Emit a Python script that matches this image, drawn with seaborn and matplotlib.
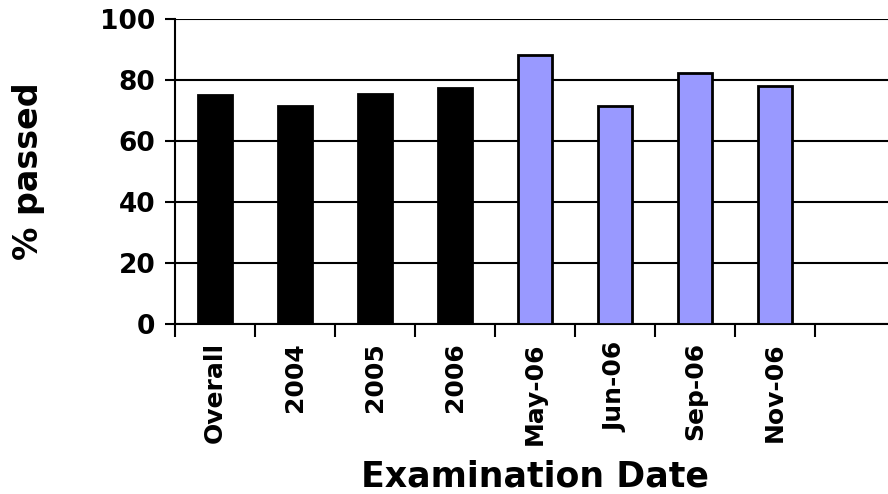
import matplotlib
matplotlib.use('Agg')
import matplotlib.pyplot as plt
import seaborn as sns
import pandas as pd
import numpy as np

# data
categories = ['Overall', '2004', '2005', '2006', 'May-06', 'Jun-06', 'Sep-06', 'Nov-06']
pass_rate = [75.0, 71.4, 75.4, 77.3, 88.2, 71.6, 82.2, 78.1]
period = ['aggregate', 'aggregate', 'aggregate', 'aggregate', 'session', 'session', 'session', 'session']
y_ticks = [0, 20, 40, 60, 80, 100]

df = pd.DataFrame({'Date': categories, 'Passed': pass_rate, 'Period': period})

sns.set_style('white')
plt.rcParams['font.family'] = ['DejaVu Sans']
plt.rcParams['font.weight'] = 'bold'
plt.rcParams['text.color'] = 'black'
plt.rcParams['axes.labelcolor'] = 'black'
plt.rcParams['xtick.color'] = 'black'
plt.rcParams['ytick.color'] = 'black'

fig = plt.figure(figsize=(8.88, 4.94), dpi=100)
# right edge of the plot area runs past the figure, as in the original
ax = fig.add_axes([175 / 888, 1 - 324 / 494, 720 / 888, 305 / 494])

colors = {'aggregate': '#000000', 'session': '#9999FF'}
sns.barplot(data=df, x='Date', y='Passed', hue='Period', palette=colors,
            order=categories, dodge=False, width=0.43, legend=False, saturation=1,
            edgecolor='black', linewidth=2, ax=ax, zorder=3)

ax.set_xlim(-0.5, len(categories) + 0.5)
ax.set_ylim(0, 100)
ax.set_yticks(y_ticks)
ax.yaxis.grid(True, color='black', linewidth=1.5, zorder=0)
ax.set_axisbelow(True)

for s in ['top', 'right']:
    ax.spines[s].set_visible(False)
for s in ['left', 'bottom']:
    ax.spines[s].set_color('black')
    ax.spines[s].set_linewidth(1.5)

# labels centred on bars, tick marks on slot boundaries
ax.set_xticks(range(len(categories)))
ax.set_xticklabels(categories, rotation=90, fontsize=18, fontweight='bold')
ax.set_xticks(np.arange(-0.5, len(categories) + 0.5, 1), minor=True)
ax.tick_params(axis='x', which='major', length=0, pad=13, bottom=True)
ax.tick_params(axis='x', which='minor', length=9, width=1.5, color='black',
               direction='out', bottom=True)
ax.tick_params(axis='y', length=7, width=1.5, color='black', direction='out',
               labelsize=19, pad=7, left=True)
for t in ax.get_yticklabels():
    t.set_fontweight('bold')

ax.set_xlabel('Examination Date', fontsize=25, fontweight='bold', labelpad=11)
ax.set_ylabel('% passed', fontsize=24, fontweight='bold', labelpad=40)

fig.savefig('out.png', dpi=100)
